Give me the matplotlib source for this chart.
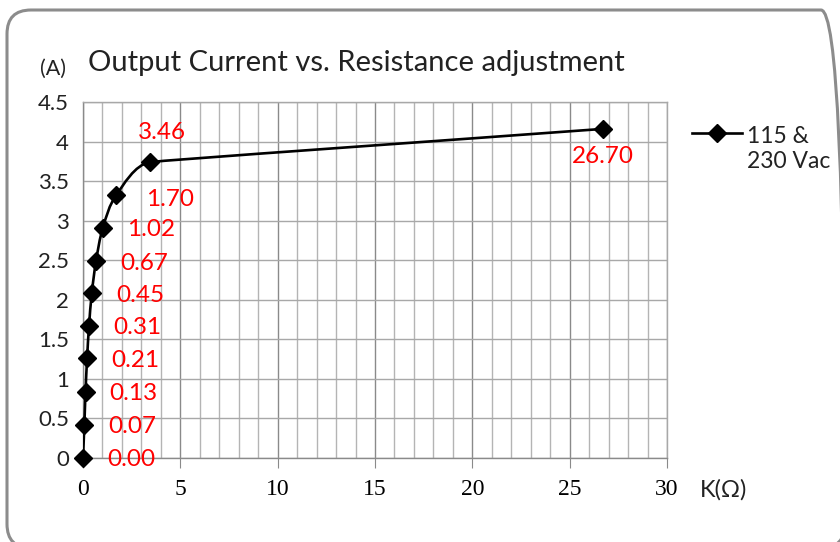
import numpy as np
import matplotlib
matplotlib.use("Agg")
import matplotlib.pyplot as plt
from matplotlib.path import Path
from matplotlib.patches import PathPatch, FancyBboxPatch
from matplotlib.transforms import IdentityTransform
from matplotlib.ticker import MultipleLocator

# Datos
resistance = [0.00, 0.07, 0.13, 0.21, 0.31, 0.45, 0.67, 1.02, 1.70, 3.46, 26.70]
current = [0.00, 0.42, 0.84, 1.26, 1.67, 2.08, 2.49, 2.91, 3.32, 3.74, 4.16]
labels = ["0.00", "0.07", "0.13", "0.21", "0.31", "0.45", "0.67", "1.02", "1.70", "3.46", "26.70"]
series_name = "115 &\n230 Vac"

W, H = 840, 542
fig = plt.figure(figsize=(W / 100, H / 100), dpi=100)
ax = fig.add_axes([83 / W, 1 - 458 / H, (667 - 83) / W, (458 - 102) / H])

ax.set_xlim(0, 30)
ax.set_ylim(0, 4.5)
ax.xaxis.set_major_locator(MultipleLocator(5))
ax.xaxis.set_minor_locator(MultipleLocator(1))
ax.yaxis.set_major_locator(MultipleLocator(0.5))
ax.grid(True, which="major", axis="x", color="#8a8a8a", lw=1.0)
ax.grid(True, which="minor", axis="x", color="#b4b4b4", lw=1.0)
ax.grid(True, which="major", axis="y", color="#a8a8a8", lw=1.0)
ax.set_axisbelow(True)
for s in ax.spines.values():
    s.set_color("#a8a8a8")
    s.set_linewidth(1.0)
ax.spines["bottom"].set_color("#8a8a8a")
ax.spines["left"].set_color("#8a8a8a")

ax.tick_params(axis="x", which="major", direction="out", length=7, color="#8a8a8a", pad=8)
ax.tick_params(axis="x", which="minor", length=0)
ax.tick_params(axis="y", length=0, pad=10)
ax.set_xticklabels([str(int(v)) for v in ax.get_xticks()], family="Liberation Serif", fontsize=17)
ax.set_yticks(np.arange(0, 4.51, 0.5))
ax.set_yticklabels(["0", "0.5", "1", "1.5", "2", "2.5", "3", "3.5", "4", "4.5"],
                   family="Lato", fontsize=16, color="#222222")

# Linea suavizada (bezier en pixeles)
pts = ax.transData.transform(np.column_stack([resistance, current]))
n = len(pts)
seg = [np.hypot(*(pts[i + 1] - pts[i])) for i in range(n - 1)]
tang, clen = [], []
for i in range(n):
    a = pts[max(i - 1, 0)]
    b = pts[min(i + 1, n - 1)]
    d = b - a
    tang.append(d / np.hypot(*d))
    near = [seg[j] for j in (i - 1, i) if 0 <= j < n - 1]
    clen.append(min(near) / 3)
verts = [pts[0]]
codes = [Path.MOVETO]
for i in range(n - 1):
    verts += [pts[i] + tang[i] * clen[i], pts[i + 1] - tang[i + 1] * clen[i + 1], pts[i + 1]]
    codes += [Path.CURVE4] * 3
ax.add_patch(PathPatch(Path(verts, codes), transform=IdentityTransform(),
                       fc="none", ec="black", lw=1.9, zorder=3))
ax.plot(resistance, current, ls="none", marker="D", ms=9, color="black", zorder=4, clip_on=False)

# Etiquetas de datos
for x, y, t in zip(resistance, current, labels):
    if t == "3.46":
        ax.annotate(t, (x, y), xytext=(12, 30), textcoords="offset pixels",
                    ha="center", va="center", color="red", fontsize=17.5, family="Lato")
    elif t == "26.70":
        ax.annotate(t, (x, y), xytext=(0, -28), textcoords="offset pixels",
                    ha="center", va="center", color="red", fontsize=17.5, family="Lato")
    elif t == "1.70":
        ax.annotate(t, (x, y), xytext=(30, -4), textcoords="offset pixels",
                    ha="left", va="center", color="red", fontsize=17.5, family="Lato")
    else:
        ax.annotate(t, (x, y), xytext=(24, -2), textcoords="offset pixels",
                    ha="left", va="center", color="red", fontsize=17.5, family="Lato")

# Titulo y ejes
fig.text(40 / W, 1 - 69 / H, "(A)", family="Lato", fontsize=15.5, va="center", color="#222222")
fig.text(88 / W, 1 - 63 / H, "Output Current vs. Resistance adjustment",
         family="Lato", fontsize=21, va="center", color="#222222")
fig.text(700 / W, 1 - 490 / H, "K(\u03a9)", family="Lato", fontsize=17, va="center", color="#222222")

# Leyenda
fig.lines.append(plt.Line2D([692 / W, 742 / W], [1 - 133 / H, 1 - 133 / H], transform=fig.transFigure,
                            color="black", lw=1.9))
fig.lines.append(plt.Line2D([717 / W], [1 - 133 / H], transform=fig.transFigure,
                            color="black", marker="D", ms=9, ls="none"))
fig.text(747 / W, 1 - 149 / H, series_name, family="Lato", fontsize=16.5,
         va="center", color="#222222", linespacing=1.25)

# Marco redondeado
fig.patches.append(FancyBboxPatch((7, -6), 838, 538, boxstyle="round,pad=0,rounding_size=24",
                                  transform=IdentityTransform(), fc="none", ec="#8c8c8c", lw=2.2))

fig.savefig("out.png", dpi=100)
